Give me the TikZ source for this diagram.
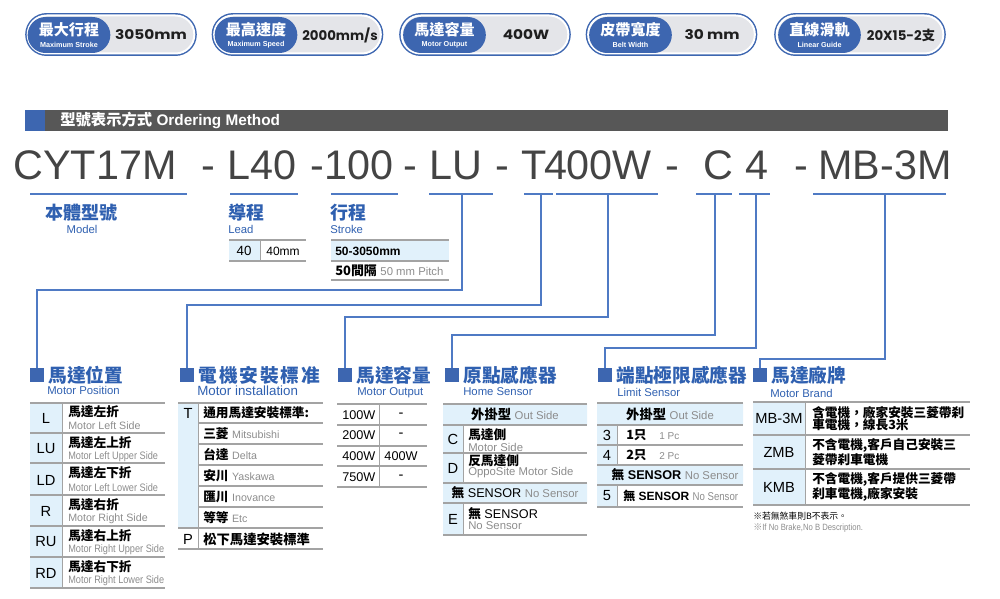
\documentclass[tikz,border=0pt]{standalone}
\usepackage{fontspec}
\setmainfont{Liberation Sans}
\newfontfamily\cjk{Noto Sans CJK TC}
\newfontfamily\geo[FakeStretch=1.15]{Poppins}
\newfontfamily\geon{Poppins}
\newfontfamily\narrow[FakeStretch=0.85]{Liberation Sans}
\usetikzlibrary{positioning}
\definecolor{pillblue}{HTML}{3D66B0}
\definecolor{lineblue}{HTML}{4F7AC4}
\definecolor{titleblue}{HTML}{2F60B0}
\definecolor{pillgray}{HTML}{E4E5E9}
\definecolor{bargray}{HTML}{575757}
\definecolor{codegray}{HTML}{444444}
\definecolor{cellblue}{HTML}{E1F1FB}
\definecolor{tgray}{HTML}{A3A3A3}
\definecolor{engray}{HTML}{8C8C8C}
\newcommand\zh[1]{{\cjk\bfseries #1}}
\newcommand\en[2][8]{{\color{engray}\fontsize{#1}{#1}\selectfont #2}}

\begin{document}
\begin{tikzpicture}[x=0.75pt,y=-0.75pt,
 pillout/.style={draw=white,line width=1.5pt,fill=pillgray,rounded corners=14.2pt,minimum width=125pt,minimum height=28.5pt,inner sep=0,preaction={draw=pillblue,line width=3.7pt}},
 pillin/.style={fill=pillblue,rounded corners=13.5pt,minimum width=62pt,minimum height=27pt,inner sep=0},
 pilltitle/.style={text=white,inner sep=0,font=\cjk\bfseries\fontsize{11.3}{12}\selectfont},
 pillsub/.style={text=white,inner sep=0,font=\bfseries\fontsize{5.4}{6}\selectfont},
 pillval/.style={inner sep=0,text=black!88,font=\geo\bfseries\fontsize{10}{10}\selectfont},
 codetxt/.style={anchor=base,inner sep=0,text=codegray,font=\fontsize{31}{31}\selectfont},
 uline/.style={draw=lineblue,line width=1.1pt},
 link/.style={draw=lineblue,line width=1.1pt},
 lab/.style={inner sep=0,text=titleblue,font=\cjk\bfseries\fontsize{13.5}{14}\selectfont},
 labsub/.style={inner sep=0,text=titleblue,font=\fontsize{8.5}{9}\selectfont},
 sq/.style={fill=pillblue,minimum size=10.5pt,inner sep=0},
 sect/.style={lab,font=\cjk\bfseries\fontsize{14}{14}\selectfont},
 tline/.style={draw=tgray,line width=.9pt},
 tdiv/.style={draw=tgray,line width=.6pt},
 tcode/.style={inner sep=0,font=\fontsize{11}{11}\selectfont},
 tzh/.style={inner sep=0,anchor=west,font=\cjk\bfseries\fontsize{9.5}{10}\selectfont},
 ten/.style={inner sep=0,anchor=west,text=engray,font=\fontsize{8}{8}\selectfont},
 tnar/.style={ten,font=\narrow\fontsize{8.1}{8.1}\selectfont},
 tmix/.style={inner sep=0,anchor=west,font=\fontsize{9.5}{10}\selectfont}]
\useasboundingbox (0,0) rectangle (1000,599);

% spec pills
\node[pillout] (pStroke) at (111,34.5) {};
\node[pillin] (pStrokeIn) at (69,35) {};
\node[pilltitle] (pStrokeZh) at (69,30) {最大行程};
\node[pillsub] (pStrokeEn) at (69,44.5) {Maximum Stroke};
\node[pillval] (pStrokeV) at (151,35) {3050mm};
\node[pillout] (pSpeed) at (297.5,34.5) {};
\node[pillin] (pSpeedIn) at (256,35) {};
\node[pilltitle] (pSpeedZh) at (256,30) {最高速度};
\node[pillsub] (pSpeedEn) at (256,44.5) {Maximum Speed};
\node[pillval,font=\geon\bfseries\fontsize{10}{10}\selectfont] (pSpeedV) at (340,35) {2000mm/s};
\node[pillout] (pPower) at (485,34.5) {};
\node[pillin] (pPowerIn) at (444.5,35) {};
\node[pilltitle] (pPowerZh) at (444.5,30) {馬達容量};
\node[pillsub] (pPowerEn) at (444.5,44.5) {Motor Output};
\node[pillval] (pPowerV) at (526,35) {400W};
\node[pillout] (pBelt) at (671.5,34.5) {};
\node[pillin] (pBeltIn) at (630.5,35) {};
\node[pilltitle] (pBeltZh) at (630.5,30) {皮帶寬度};
\node[pillsub] (pBeltEn) at (630.5,44.5) {Belt Width};
\node[pillval] (pBeltV) at (712,35) {30 mm};
\node[pillout] (pGuide) at (860,34.5) {};
\node[pillin] (pGuideIn) at (819.5,35) {};
\node[pilltitle] (pGuideZh) at (819.5,30) {直線滑軌};
\node[pillsub] (pGuideEn) at (819.5,44.5) {Linear Guide};
\node[pillval,font=\geon\bfseries\fontsize{10}{10}\selectfont] (pGuideV) at (901,35) {20X15-2{\cjk 支}};

% heading bar
\fill[pillblue] (25,110) rectangle (45,131);
\fill[bargray] (45,110) rectangle (948,131);
\node[inner sep=0,anchor=west,text=white,font=\bfseries\fontsize{11.5}{12}\selectfont] (tHead) at (60,120.5) {{\cjk 型號表示方式} Ordering Method};

% ordering code
\node[codetxt] (cModel) at (95,180) {CYT17M};
\node[codetxt] (dA) at (208,180) {-};
\node[codetxt] (cLead) at (262,180) {L40};
\node[codetxt] (dB) at (317,180) {-};
\node[codetxt] (cStroke) at (359,180) {100};
\node[codetxt] (dC) at (410,180) {-};
\node[codetxt] (cPos) at (456,180) {LU};
\node[codetxt] (dD) at (502,180) {-};
\node[codetxt] (cInst) at (534,180) {T};
\node[codetxt] (cOut) at (598,180) {400W};
\node[codetxt] (dE) at (672,180) {-};
\node[codetxt] (cHome) at (718,180) {C};
\node[codetxt] (cLimit) at (757,180) {4};
\node[codetxt] (dF) at (801,180) {-};
\node[codetxt] (cBrand) at (885,180) {MB-3M};
\draw[uline] (30,194)--(187,194) (230,194)--(298,194) (331,194)--(398,194) (429,194)--(493,194)
 (524,194)--(553,194) (556,194)--(658,194) (696,194)--(732,194) (739,194)--(770,194) (813,194)--(946,194);
\coordinate (uPos) at (462,194);
\coordinate (uInst) at (541,194);
\coordinate (uOut) at (608,194);
\coordinate (uHome) at (715,194);
\coordinate (uLimit) at (756,194);
\coordinate (uBrand) at (885,194);

% model, lead, stroke
\node[lab] (lModel) at (81.5,213) {本體型號};
\node[labsub] (lModelEn) at (82,229) {Model};
\node[lab,anchor=west] (lLead) at (228,213) {導程};
\node[labsub,anchor=west] (lLeadEn) at (228,229) {Lead};
\node[lab,anchor=west] (lStroke) at (330,213) {行程};
\node[labsub,anchor=west] (lStrokeEn) at (330,229) {Stroke};
\fill[cellblue] (229,240) rectangle (260,261);
\draw[tline] (229,240)--(306,240) (229,261)--(306,261);
\draw[tdiv] (260,240)--(260,261);
\node[tcode,font=\fontsize{10}{10}\selectfont] (vLead) at (244,251) {40};
\node[tcode,font=\fontsize{9}{9}\selectfont] (vLeadMm) at (283,251) {40mm};
\fill[cellblue] (331,240) rectangle (449,261);
\draw[tline] (331,240)--(449,240) (331,261)--(449,261) (331,280)--(449,280);
\node[tmix,font=\bfseries\fontsize{9}{9}\selectfont] (vStroke) at (335,251) {50-3050mm};
\node[tmix,font=\fontsize{9.7}{10}\selectfont] (vPitch) at (335,271) {\zh{50間隔} \en[8.5]{50 mm Pitch}};

% section heads
\node[sq] (sqPos) at (37,375) {};
\node[sect,right=3pt of sqPos] (tPos) {馬達位置};
\node[labsub,anchor=west] (tPosEn) at (47,390) {Motor Position};
\node[sq] (sqInst) at (187,375) {};
\node[sect,right=3pt of sqInst] (tInst) {\addfontfeature{LetterSpace=10}電機安裝標准};
\node[labsub,anchor=west,font=\fontsize{10}{10}\selectfont] (tInstEn) at (197,391) {Motor installation};
\node[sq] (sqOut) at (345,375) {};
\node[sect,right=3pt of sqOut] (tOut) {馬達容量};
\node[labsub,anchor=west] (tOutEn) at (357,393) {Motor Output};
\node[sq] (sqHome) at (452,375) {};
\node[sect,right=3pt of sqHome] (tHome) {原點感應器};
\node[labsub,anchor=west] (tHomeEn) at (463,392) {Home Sensor};
\node[sq] (sqLimit) at (605,375) {};
\node[sect,right=3pt of sqLimit] (tLimit) {端點極限感應器};
\node[labsub,anchor=west] (tLimitEn) at (617,392) {Limit Sensor};
\node[sq] (sqBrand) at (760,375) {};
\node[sect,right=3pt of sqBrand] (tBrand) {馬達廠牌};
\node[labsub,anchor=west] (tBrandEn) at (770,393) {Motor Brand};

% connectors
\draw[link] (uPos) -- ++(0,96) -| (sqPos.north);
\draw[link] (uInst) -- ++(0,111) -| (sqInst.north);
\draw[link] (uOut) -- ++(0,123) -| (sqOut.north);
\draw[link] (uHome) -- ++(0,141) -| (sqHome.north);
\draw[link] (uLimit) -- ++(0,154) -| (sqLimit.north);
\draw[link] (uBrand) -- ++(0,165) -| (sqBrand.north);

% motor position table
\fill[cellblue] (30,403) rectangle (62,588);
\draw[tline] (30,403)--(165,403) (30,433)--(165,433) (30,463)--(165,463) (30,495)--(165,495)
 (30,526)--(165,526) (30,557)--(165,557) (30,588)--(165,588);
\draw[tdiv] (62,403)--(62,588);
\node[tcode] (kL) at (46,418) {L};
\node[tzh] (zL) at (68,412) {馬達左折};
\node[ten] (eL) at (68,426) {Motor Left Side};
\node[tcode] (kLU) at (46,449) {LU};
\node[tzh] (zLU) at (68,443) {馬達左上折};
\node[tnar] (eLU) at (68,457) {Motor Left Upper Side};
\node[tcode] (kLD) at (46,480) {LD};
\node[tzh] (zLD) at (68,473) {馬達左下折};
\node[tnar] (eLD) at (68,488) {Motor Left Lower Side};
\node[tcode] (kR) at (46,511) {R};
\node[tzh] (zR) at (68,505) {馬達右折};
\node[ten] (eR) at (68,519) {Motor Right Side};
\node[tcode] (kRU) at (46,542) {RU};
\node[tzh] (zRU) at (68,536) {馬達右上折};
\node[tnar] (eRU) at (68,550) {Motor Right Upper Side};
\node[tcode] (kRD) at (46,573) {RD};
\node[tzh] (zRD) at (68,567) {馬達右下折};
\node[tnar] (eRD) at (68,581) {Motor Right Lower Side};

% motor installation table
\fill[cellblue] (178,403) rectangle (198,528);
\draw[tline] (178,403)--(323,403) (198,423)--(323,423) (198,444)--(323,444) (198,465)--(323,465)
 (198,486)--(323,486) (198,507)--(323,507) (178,528)--(323,528) (178,549)--(323,549);
\draw[tdiv] (198,403)--(198,549);
\node[tcode] (kT) at (188,413) {T};
\node[tzh] (zT) at (203,413) {通用馬達安裝標準:};
\node[tmix] (zMit) at (203,434) {\zh{三菱} \en{Mitsubishi}};
\node[tmix] (zDel) at (203,455) {\zh{台達} \en{Delta}};
\node[tmix] (zYas) at (203,476) {\zh{安川} \en{Yaskawa}};
\node[tmix] (zIno) at (203,497) {\zh{匯川} \en{Inovance}};
\node[tmix] (zEtc) at (203,518) {\zh{等等} \en{Etc}};
\node[tcode] (kP) at (188,539) {P};
\node[tzh,font=\cjk\bfseries\fontsize{10}{10}\selectfont] (zP) at (203,539) {松下馬達安裝標準};

% motor output table
\draw[tline] (337,404)--(427,404) (337,425)--(427,425) (337,446)--(427,446) (337,466)--(427,466) (337,487)--(427,487);
\draw[tdiv] (379,404)--(379,487);
\node[tmix] (w100) at (342,415) {100W};
\node[tcode] (o100) at (401,415) {-};
\node[tmix] (w200) at (342,435) {200W};
\node[tcode] (o200) at (401,435) {-};
\node[tmix] (w400) at (342,456) {400W};
\node[tcode,font=\fontsize{9.5}{10}\selectfont] (o400) at (401,456) {400W};
\node[tmix] (w750) at (342,477) {750W};
\node[tcode] (o750) at (401,477) {-};

% home sensor table
\fill[cellblue] (443,404) rectangle (587,425) (443,425) rectangle (463,483) (443,483) rectangle (587,503) (443,503) rectangle (463,535);
\draw[tline] (443,404)--(587,404) (443,425)--(587,425) (443,453)--(587,453) (443,483)--(587,483)
 (443,503)--(587,503) (443,535)--(587,535);
\draw[tdiv] (463,425)--(463,483) (463,503)--(463,535);
\node[tmix,anchor=center] (hOut) at (515,414) {\zh{\fontsize{10}{10}\selectfont 外掛型} \en[8.5]{Out Side}};
\node[tcode] (kC) at (453,439) {C};
\node[tzh] (zC) at (468,435) {馬達側};
\node[ten,font=\fontsize{8.5}{8.5}\selectfont] (eC) at (468,447) {Motor Side};
\node[tcode] (kD) at (453,468) {D};
\node[tzh] (zD) at (468,461) {反馬達側};
\node[ten,font=\fontsize{8.5}{8.5}\selectfont] (eD) at (468,473) {OppoSite Motor Side};
\node[tmix,anchor=center] (hNone) at (515,493) {\zh{無} SENSOR \en[8.5]{No Sensor}};
\node[tcode] (kE) at (453,519) {E};
\node[tmix] (zE) at (468,514) {\zh{無} SENSOR};
\node[ten,font=\fontsize{8.5}{8.5}\selectfont] (eE) at (468,526) {No Sensor};

% limit sensor table
\fill[cellblue] (597,403) rectangle (743,425) (597,425) rectangle (617,465) (597,465) rectangle (743,485) (597,485) rectangle (617,507);
\draw[tline] (597,403)--(743,403) (597,425)--(743,425) (597,445)--(743,445) (597,465)--(743,465)
 (597,485)--(743,485) (597,507)--(743,507);
\draw[tdiv] (617,425)--(617,465) (617,485)--(617,507);
\node[tmix,anchor=center] (lOut) at (670,414) {\zh{\fontsize{10}{10}\selectfont 外掛型} \en[8.5]{Out Side}};
\node[tcode] (k3) at (607,435) {3};
\node[tmix] (z3) at (626,435) {\zh{1只}\quad\en[7.5]{1 Pc}};
\node[tcode] (k4) at (607,455) {4};
\node[tmix] (z4) at (626,455) {\zh{2只}\quad\en[7.5]{2 Pc}};
\node[tmix,anchor=center] (lNone) at (675,475) {\zh{無} {\bfseries SENSOR} \en[8.5]{No Sensor}};
\node[tcode] (k5) at (607,496) {5};
\node[tmix,font=\fontsize{9}{9}\selectfont] (z5) at (623,496) {\zh{無} {\bfseries SENSOR} {\narrow\en[8.5]{No Sensor}}};

% motor brand table
\fill[cellblue] (753,402) rectangle (805,505);
\draw[tline] (753,402)--(970,402) (753,435)--(970,435) (753,469)--(970,469) (753,505)--(970,505);
\draw[tdiv] (805,402)--(805,505);
\node[tcode] (kMB) at (779,418.5) {MB-3M};
\node[tzh,align=left,font=\cjk\bfseries\fontsize{9.5}{9.3}\selectfont] (zMB) at (812,418.5) {含電機，廠家安裝三菱帶刹\\車電機，線長3米};
\node[tcode] (kZMB) at (779,452) {ZMB};
\node[tzh,align=left,font=\cjk\bfseries\fontsize{9.5}{9.3}\selectfont] (zZMB) at (812,452) {不含電機,客戶自己安裝三\\菱帶刹車電機};
\node[tcode] (kKMB) at (779,487) {KMB};
\node[tzh,align=left,font=\cjk\bfseries\fontsize{9.5}{9.8}\selectfont] (zKMB) at (812,487) {不含電機,客戶提供三菱帶\\刹車電機,廠家安裝};
\node[inner sep=0,anchor=west,font=\cjk\fontsize{6.6}{7}\selectfont] (nZh) at (753,516) {※若無煞車則B不表示。};
\node[inner sep=0,anchor=west,text=engray,font=\narrow\fontsize{6.8}{7}\selectfont] (nEn) at (753,528) {{\cjk ※}If No Brake,No B Description.};
\end{tikzpicture}
\end{document}
